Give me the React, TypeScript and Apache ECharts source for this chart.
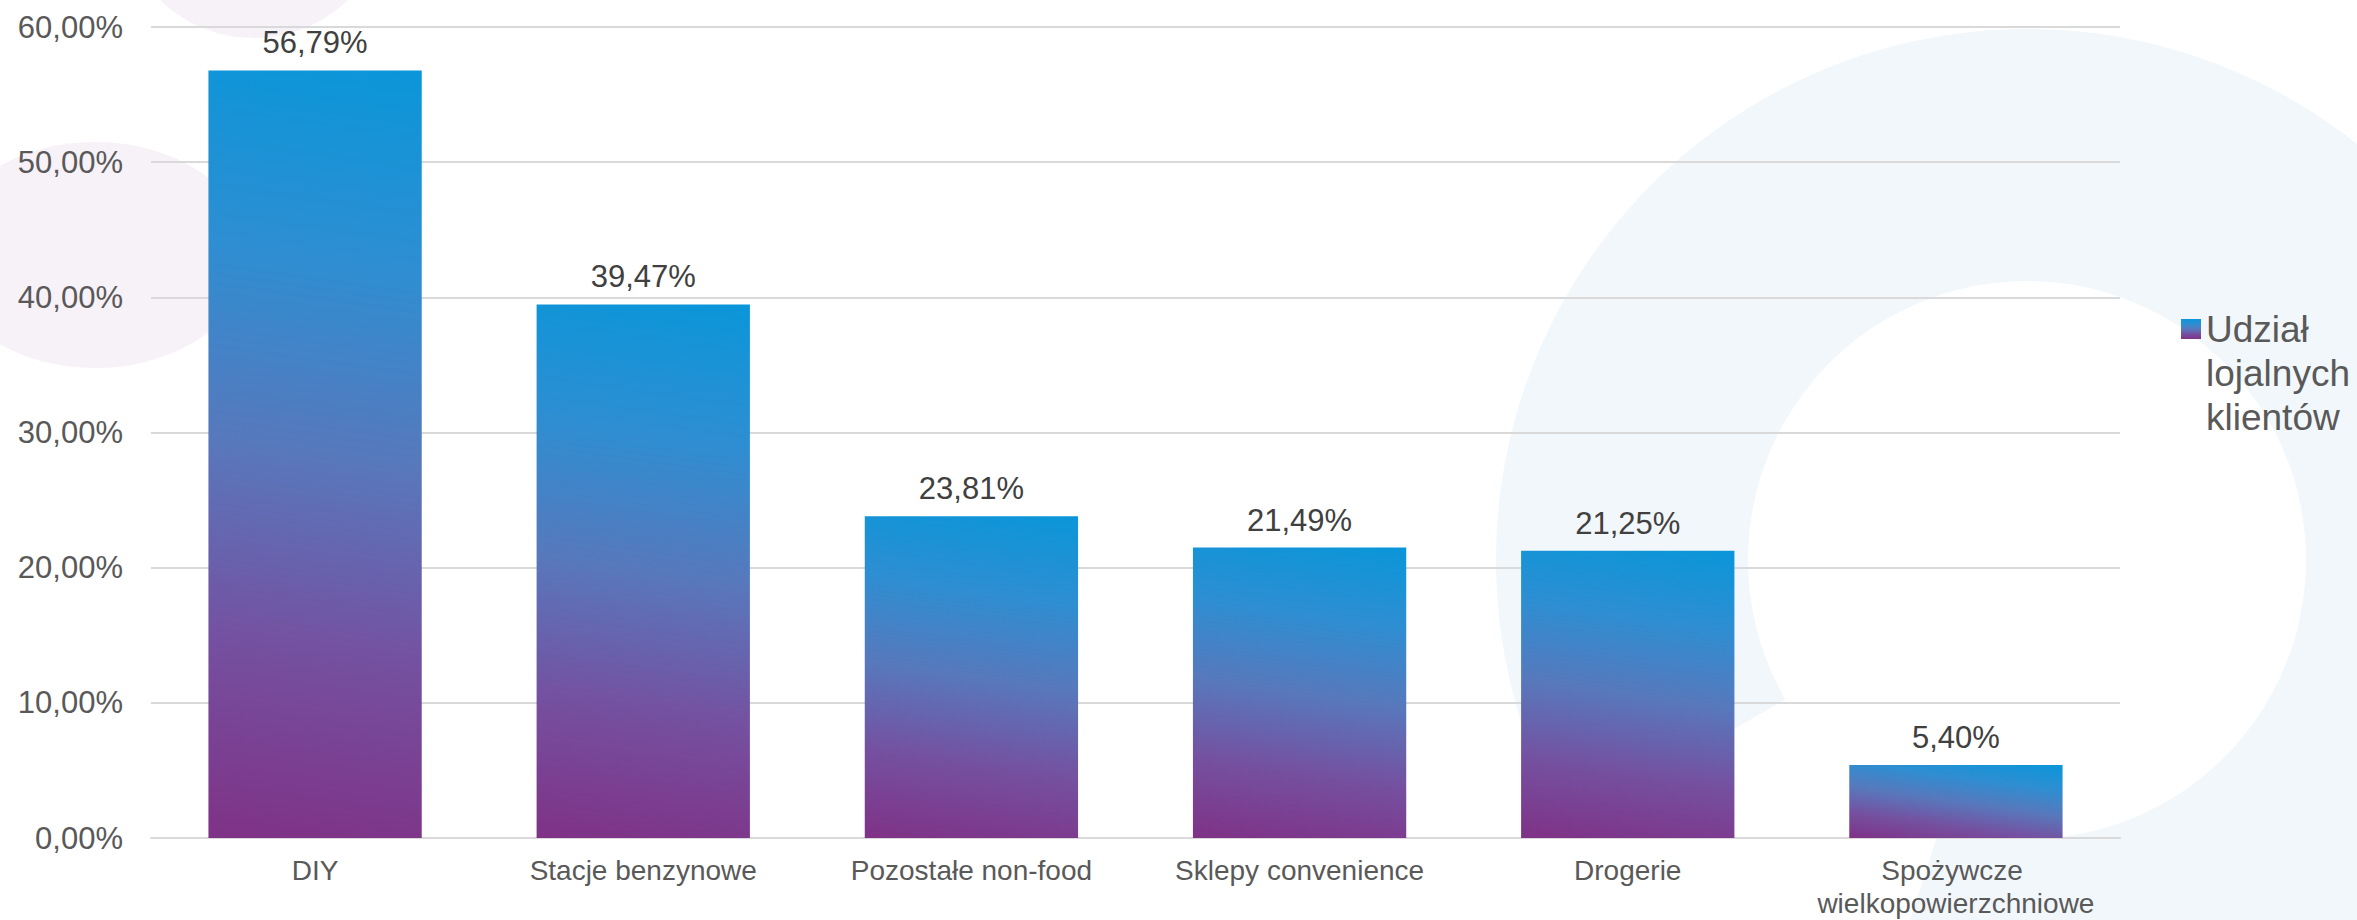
import React, { useEffect, useRef } from 'react';
import * as echarts from 'echarts';

const categories = [
  'DIY',
  'Stacje benzynowe',
  'Pozostałe non-food',
  'Sklepy convenience',
  'Drogerie',
  'Spożywcze wielkopowierzchniowe',
];
const values = [56.79, 39.47, 23.81, 21.49, 21.25, 5.4];
const seriesName = 'Udział lojalnych klientów';
const legendLines = ['Udział', 'lojalnych', 'klientów'];
const yMin = 0;
const yMax = 60;
const yStep = 10;

const fmt = (v: number) => v.toFixed(2).replace('.', ',') + '%';
const FONT = '"Liberation Sans", Arial, sans-serif';

const STOPS = [
  { offset: 0, color: '#7F3286' },
  { offset: 0.25, color: '#7550A0' },
  { offset: 0.5, color: '#5878BC' },
  { offset: 0.75, color: '#2E8ED2' },
  { offset: 1, color: '#0A96D9' },
];

export default function App() {
  const ref = useRef<HTMLDivElement>(null);
  useEffect(() => {
    if (!ref.current) return;
    const chart = echarts.init(ref.current, null, { renderer: 'svg' });
    const deg = Math.PI / 180;
    const legendGrad = new echarts.graphic.LinearGradient(0, 1, 0, 0, STOPS);
    chart.setOption({
      animation: false,
      backgroundColor: '#ffffff',
      textStyle: { fontFamily: FONT },
      graphic: [
        {
          type: 'sector',
          z: -10,
          silent: true,
          shape: { cx: 2027, cy: 560, r: 531, r0: 279, startAngle: 150 * deg, endAngle: 468 * deg, clockwise: true },
          style: { fill: '#F2F7FB' },
        },
        {
          type: 'circle',
          z: -10,
          silent: true,
          shape: { cx: 254, cy: -97, r: 135 },
          style: { fill: '#F7F2F7' },
        },
        {
          type: 'ellipse',
          z: -10,
          silent: true,
          shape: { cx: 95, cy: 255, rx: 155, ry: 113 },
          style: { fill: '#F7F2F7' },
        },
      ],
      grid: { left: 151, right: 237, top: 27, bottom: 82, containLabel: false, outerBoundsMode: 'none' },
      legend: {
        data: [seriesName],
        orient: 'vertical',
        left: 2181,
        top: 219,
        padding: 0,
        itemWidth: 20,
        itemHeight: 20,
        itemGap: 0,
        itemTextGap: 10,
        icon: 'rect',
        formatter: () => '\n\n' + legendLines.join('\n'),
        textStyle: { fontSize: 37, lineHeight: 44, color: '#595959', fontFamily: FONT },
      },
      xAxis: {
        type: 'category',
        data: categories,
        axisTick: { show: false },
        axisLine: { show: true, lineStyle: { color: '#D9D9D9', width: 2 } },
        axisLabel: {
          fontSize: 28,
          lineHeight: 33,
          color: '#595959',
          margin: 16,
          width: 320,
          overflow: 'break',
          interval: 0,
          fontFamily: FONT,
        },
      },
      yAxis: {
        type: 'value',
        min: yMin,
        max: yMax,
        interval: yStep,
        axisLine: { show: false },
        axisTick: { show: false },
        splitLine: { lineStyle: { color: '#D9D9D9', width: 2 } },
        axisLabel: { fontSize: 31, color: '#595959', margin: 28, formatter: (v: number) => fmt(v), fontFamily: FONT },
      },
      series: [
        {
          name: seriesName,
          type: 'bar',
          data: values,
          barCategoryGap: '35%',
          itemStyle: { color: legendGrad },
          label: {
            show: true,
            position: 'top',
            distance: 12,
            fontSize: 31,
            color: '#404040',
            fontFamily: FONT,
            formatter: (p: any) => fmt(p.value),
          },
        },
      ],
    });

    // per-bar gradients at a fixed absolute angle (like the original)
    const theta = 8 * deg;
    const p0 = chart.convertToPixel({ seriesIndex: 0 }, [0, 0]) as number[];
    const p1 = chart.convertToPixel({ seriesIndex: 0 }, [1, 0]) as number[];
    const bw = (p1[0] - p0[0]) * 0.65;
    const data = values.map((v, i) => {
      const top = chart.convertToPixel({ seriesIndex: 0 }, [i, v]) as number[];
      const bot = chart.convertToPixel({ seriesIndex: 0 }, [i, 0]) as number[];
      const L = top[0] - bw / 2;
      const h = bot[1] - top[1];
      const span = bw * Math.sin(theta) + h * Math.cos(theta);
      const x1 = L;
      const y1 = bot[1];
      const x2 = L + Math.sin(theta) * span;
      const y2 = bot[1] - Math.cos(theta) * span;
      return {
        value: v,
        itemStyle: { color: new echarts.graphic.LinearGradient(x1, y1, x2, y2, STOPS, true) },
      };
    });
    chart.setOption({ series: [{ data }] });
    return () => chart.dispose();
  }, []);
  return <div ref={ref} style={{ position: 'absolute', left: 0, top: 0, width: 2357, height: 920 }} />;
}
